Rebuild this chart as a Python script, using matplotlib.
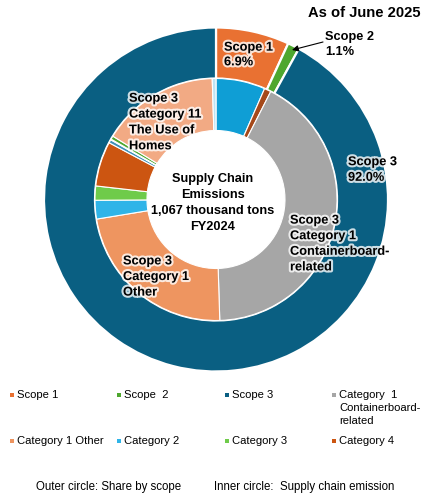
import matplotlib
matplotlib.use("Agg")
import matplotlib.pyplot as plt
import matplotlib.patheffects as pe
from matplotlib.patches import Rectangle

plt.rcParams['font.family'] = ['Liberation Sans', 'DejaVu Sans']

outer_names = ["Scope 1", "Scope 2", "Scope 3"]
outer_values = [6.9, 1.1, 92.0]
outer_colors = ["#E97132", "#4EA72E", "#0A5F82"]

inner_names = ["Category 5+", "Category 15", "Containerboard", "Category 1 Other", "Category 2",
               "Category 3", "Category 4", "Thin A", "Thin B", "Thin C", "Category 11", "Thin D"]
inner_values = [6.6, 0.9, 42.2, 23.0, 2.5, 1.9, 6.0, 0.45, 0.1, 0.45, 15.8, 0.5]
inner_colors = ["#0F9ED5", "#A5491A", "#A6A6A6", "#EE9560", "#2FB4E8",
                "#6FCB4A", "#CC5511", "#3E8FB8", "#EAF5FA", "#4EA72E", "#F2AA84", "#BEE4F5"]

W, H = 430, 500
fig = plt.figure(figsize=(W/100, H/100), dpi=100)

cx, cy, R = 216, 199.5, 172
ax = fig.add_axes([(cx-R)/W, 1-(cy+R)/H, 2*R/W, 2*R/H])
ax.set_zorder(1)
ax.pie(outer_values, colors=outer_colors, startangle=90, counterclock=False, radius=1,
       wedgeprops=dict(width=1-121/172, edgecolor="white", linewidth=1.6))
ax.pie(inner_values, colors=inner_colors, startangle=90, counterclock=False, radius=121/172,
       wedgeprops=dict(width=(121-69)/172, edgecolor="white", linewidth=0.8))
ax.set_xlim(-1, 1)
ax.set_ylim(-1, 1)

ov = fig.add_axes([0, 0, 1, 1])
ov.set_xlim(0, W)
ov.set_ylim(H, 0)
ov.axis("off")
ov.set_zorder(2)
ov.patch.set_alpha(0)

glow = [pe.withStroke(linewidth=3, foreground="white", alpha=0.8)]
def lab(x, y, s, size=9.2, ha="left", fx=True, weight="bold", linespacing=1.4):
    ov.text(x, y, s, fontsize=size, ha=ha, va="center", weight=weight, color="black",
            linespacing=linespacing, path_effects=glow if fx else None)

lab(224, 55, "Scope 1\n6.9%", linespacing=1.3)
lab(129, 122.5, "Scope 3\nCategory 11\nThe Use of\nHomes", linespacing=1.43)
lab(123, 277, "Scope 3\nCategory 1\nOther", linespacing=1.4)
lab(290, 244, "Scope 3\nCategory 1\nContainerboard-\nrelated", linespacing=1.4)
lab(348, 170, "Scope 3\n92.0%", linespacing=1.4)
lab(325, 44.5, "Scope 2\n1.1%", fx=False, linespacing=1.4)
lab(308, 13, "As of June 2025", size=10.6, fx=False)
lab(213, 203, "Supply Chain\nEmissions\n1,067 thousand tons\nFY2024", ha="center", fx=False, linespacing=1.45)
ov.annotate("", xy=(292, 50), xytext=(323, 42),
            arrowprops=dict(arrowstyle="-|>", color="black", lw=0.8, shrinkA=0, shrinkB=0, mutation_scale=9))

legend_names = ["Scope 1", "Scope  2", "Scope 3", "Category  1\nContainerboard-\nrelated",
                "Category 1 Other", "Category 2", "Category 3", "Category 4"]
legend_colors = ["#E97132", "#4EA72E", "#0A5F82", "#A6A6A6",
                 "#EE9560", "#2FB4E8", "#6FCB4A", "#CC5511"]
legend_x = [10, 117, 225, 332, 10, 117, 225, 332]
legend_y = [395, 395, 395, 395, 441, 441, 441, 441]
for n, c, x, y in zip(legend_names, legend_colors, legend_x, legend_y):
    ov.add_patch(Rectangle((x, y-2), 3.5, 3.5, color=c, lw=0))
    ov.text(x+7, y-4.5, n, fontsize=8.1, ha="left", va="top", linespacing=1.35)
ov.text(36, 487, "Outer circle: Share by scope", fontsize=8.3, ha="left", va="center")
ov.text(214, 487, "Inner circle:  Supply chain emission", fontsize=8.3, ha="left", va="center")

fig.savefig("out.png", dpi=100, facecolor="white")
